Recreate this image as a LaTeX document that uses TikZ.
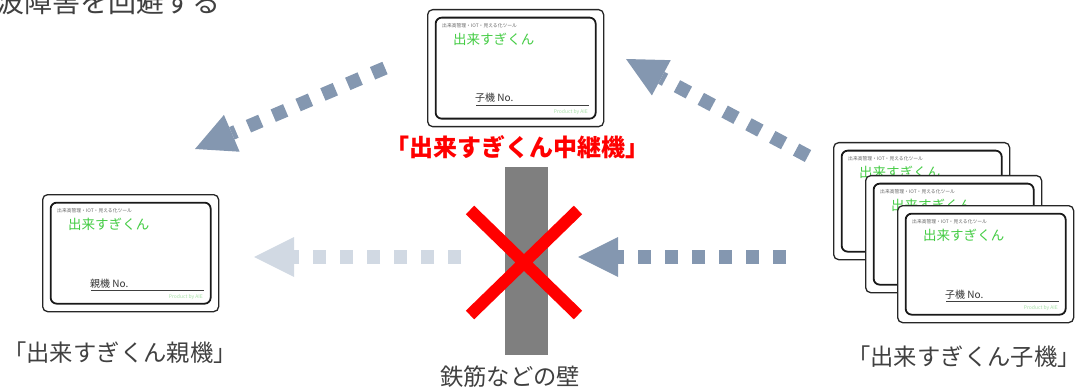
\documentclass[tikz,border=0pt]{standalone}
\usepackage{fontspec}
\setmainfont{Noto Sans CJK JP}
\usetikzlibrary{calc}
\definecolor{arrowblue}{HTML}{8497B0}
\definecolor{arrowlight}{HTML}{D1D9E3}
\definecolor{labelgray}{HTML}{404040}
\definecolor{wallgray}{HTML}{7F7F7F}
\definecolor{cardgreen}{HTML}{44CC44}
\definecolor{prodgreen}{HTML}{A8E0A8}
\newcommand\dotarrow[3]{%
  \coordinate (#2-base) at ($(#2)!40pt!(#1)$);
  \draw[#3, line width=13.5pt, dash pattern=on 13.5pt off 13.5pt] (#1) -- (#2-base);
  \fill[#3] (#2) -- ($(#2-base)!20pt!90:(#2)$) -- ($(#2-base)!20pt!-90:(#2)$) -- cycle;
}
\newcommand\devcard[4]{%
  \node[cardout, anchor=north west] (#1) at (#2,#3) {};
  \node[cardin] (#1-in) at (#1.center) {};
  \node[smalltxt, anchor=west] (#1-tag) at ($(#1.north west)+(15,17)$) {出来高管理・IOT・見える化ツール};
  \node[greentxt, anchor=west] (#1-name) at ($(#1.north west)+(26,30)$) {出来すぎくん};
  \node[notxt, anchor=base west] (#1-no) at ($(#1.north west)+(48,93)$) {#4 No.};
  \coordinate (#1-u1) at ($(#1.north west)+(49,96.5)$);
  \coordinate (#1-u2) at ($(#1.north west)+(162,96.5)$);
  \draw[uline] (#1-u1) -- (#1-u2);
  \node[prodtxt, anchor=east] (#1-prod) at ($(#1.north west)+(161,103)$) {Product by AIE};
}
\begin{document}
\begin{tikzpicture}[x=1pt,y=-1pt,
  cardout/.style={draw=black!85, line width=1.3pt, rounded corners=5pt, fill=white,
    minimum width=176pt, minimum height=117pt, inner sep=0pt},
  cardin/.style={draw=black!90, line width=1.8pt, rounded corners=6pt,
    minimum width=160pt, minimum height=101pt, inner sep=0pt},
  smalltxt/.style={font=\fontsize{4.8pt}{5pt}\selectfont, text=black!60, inner sep=0pt},
  greentxt/.style={font=\fontsize{13.5pt}{14pt}\selectfont, text=cardgreen, inner sep=0pt},
  notxt/.style={font=\fontsize{10pt}{11pt}\selectfont, text=black!80, inner sep=0pt},
  prodtxt/.style={font=\fontsize{5pt}{6pt}\selectfont, text=prodgreen, inner sep=0pt},
  uline/.style={draw=black!75, line width=1pt},
  graylabel/.style={font=\fontsize{23.3pt}{25pt}\selectfont, text=labelgray, inner sep=0pt},
  redlabel/.style={font=\bfseries\fontsize{24pt}{26pt}\selectfont, text=red, inner sep=0pt},
  wallbox/.style={fill=wallgray, minimum width=43pt, minimum height=188pt, inner sep=0pt},
  cross/.style={draw=red, line width=12pt}
]
\useasboundingbox (0,0) rectangle (1075,390);

% heading (cut off at the page edge, as in the reference)
\node[graylabel, font=\fontsize{28pt}{30pt}\selectfont, anchor=base east] (title) at (221,13) {電波障害を回避する};

% arrows
\coordinate (tl-tail) at (385,68);
\coordinate (tl-tip) at (195,149);
\coordinate (tr-tail) at (808,156);
\coordinate (tr-tip) at (626,59);
\coordinate (mr-tail) at (786,257);
\coordinate (mr-tip) at (578,257);
\coordinate (ml-tail) at (461,257);
\coordinate (ml-tip) at (254,257);
\dotarrow{tl-tail}{tl-tip}{arrowblue}
\dotarrow{tr-tail}{tr-tip}{arrowblue}
\dotarrow{mr-tail}{mr-tip}{arrowblue}
\dotarrow{ml-tail}{ml-tip}{arrowlight}

% wall and cross
\node[wallbox] (wall) at (526.5,261) {};
\coordinate (x1) at (470,210);
\coordinate (x2) at (578,315);
\coordinate (x3) at (578,210);
\coordinate (x4) at (470,315);
\draw[cross] (x1) -- (x2) (x3) -- (x4);

% cards
\devcard{relay}{427}{9}{子機}
\devcard{parent}{42}{194}{親機}
\devcard{childa}{833}{142}{子機}
\devcard{childb}{865}{175}{子機}
\devcard{childc}{897}{205}{子機}

% labels
\node[redlabel] (relaylabel) at (517.5,147.5) {「出来すぎくん中継機」};
\node[graylabel] (parentlabel) at (120,352.5) {「出来すぎくん親機」};
\node[graylabel] (childlabel) at (964,357) {「出来すぎくん子機」};
\node[graylabel] (walllabel) at (510,377) {鉄筋などの壁};
\end{tikzpicture}
\end{document}
